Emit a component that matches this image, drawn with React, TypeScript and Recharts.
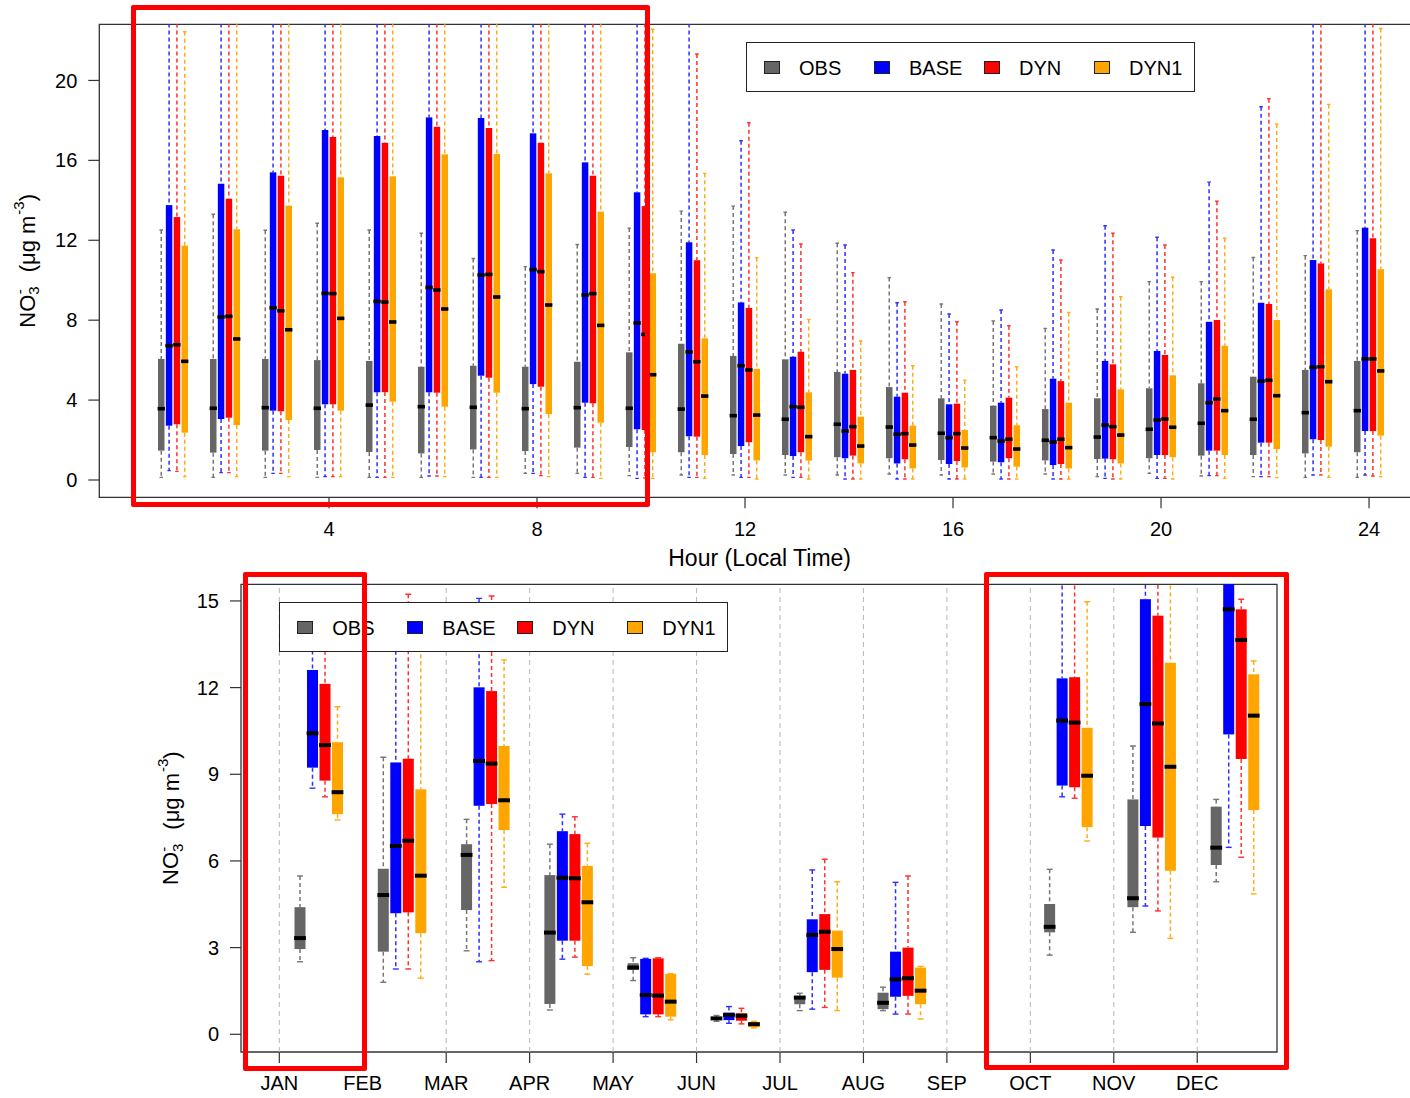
import {
  ComposedChart,
  Bar,
  XAxis,
  YAxis,
  Legend,
  ReferenceArea,
  ReferenceLine,
} from "recharts";

// every entry: [lower whisker, Q1, median, Q3, upper whisker]  (NO3-, ug m-3)
const hours = [1, 2, 3, 4, 5, 6, 7, 8, 9, 10, 11, 12, 13, 14, 15, 16, 17, 18, 19, 20, 21, 22, 23, 24];
const hourTicks = [4, 8, 12, 16, 20, 24];

const obsHourly = [
  [0.13, 1.47, 3.57, 6.06, 12.51], [0.13, 1.37, 3.59, 6.06, 13.3], [0.13, 1.47, 3.62, 6.06, 12.5],
  [0.13, 1.5, 3.59, 6.0, 12.85], [0.13, 1.4, 3.75, 5.96, 12.51], [0.13, 1.33, 3.67, 5.67, 12.35],
  [0.13, 1.53, 3.64, 5.72, 11.09], [0.33, 1.45, 3.57, 5.67, 10.68], [0.33, 1.62, 3.62, 5.92, 11.79],
  [0.22, 1.65, 3.59, 6.39, 12.61], [0.25, 1.39, 3.55, 6.82, 13.46], [0.25, 1.3, 3.22, 6.21, 13.71],
  [0.25, 1.25, 3.04, 6.04, 13.4], [0.25, 1.14, 2.79, 5.41, 11.85], [0.3, 1.09, 2.65, 4.65, 10.13],
  [0.25, 1.0, 2.34, 4.09, 8.81], [0.3, 0.92, 2.12, 3.72, 7.96], [0.3, 0.98, 1.99, 3.55, 7.59],
  [0.17, 1.05, 2.15, 4.09, 8.56], [0.33, 1.09, 2.54, 4.59, 9.93], [0.2, 1.22, 2.84, 4.84, 9.93],
  [0.17, 1.25, 3.04, 5.17, 11.14], [0.13, 1.33, 3.37, 5.51, 11.23], [0.13, 1.39, 3.47, 5.96, 12.48],
];

const baseHourly = [
  [0.47, 2.72, 6.72, 13.76, 26], [0.37, 3.05, 8.16, 14.83, 26], [0.33, 3.47, 8.62, 15.4, 26],
  [0.17, 3.79, 9.34, 17.52, 26], [0.13, 4.39, 8.94, 17.22, 26], [0.2, 4.39, 9.64, 18.15, 26],
  [0.13, 5.22, 10.26, 18.12, 26], [0.33, 4.8, 10.53, 17.35, 26], [0.13, 3.87, 9.26, 15.9, 26],
  [0.08, 2.54, 7.86, 14.4, 26], [0.13, 2.19, 6.41, 11.9, 26], [0.13, 1.7, 5.72, 8.89, 16.98],
  [0.13, 1.2, 3.67, 6.17, 12.51], [0.05, 1.09, 2.45, 5.32, 11.76], [0.05, 0.83, 2.29, 4.17, 8.87],
  [0.05, 0.8, 2.12, 3.79, 8.31], [0.05, 0.89, 1.95, 3.87, 8.51], [0.05, 0.75, 1.9, 5.07, 11.51],
  [0.08, 1.07, 2.75, 5.96, 12.73], [0.08, 1.25, 3.0, 6.46, 12.15], [0.22, 1.47, 3.87, 7.92, 14.91],
  [0.17, 1.87, 4.95, 8.87, 18.68], [0.25, 2.04, 5.64, 11.01, 26], [0.25, 2.45, 6.06, 12.63, 26],
];

const dynHourly = [
  [0.43, 2.79, 6.77, 13.16, 26], [0.37, 3.12, 8.19, 14.08, 26], [0.33, 3.44, 8.47, 15.23, 26],
  [0.17, 3.79, 9.33, 17.17, 26], [0.13, 4.4, 8.91, 16.88, 26], [0.2, 4.37, 9.51, 17.68, 26],
  [0.13, 5.12, 10.29, 17.62, 26], [0.22, 4.67, 10.43, 16.88, 26], [0.13, 3.84, 9.33, 15.23, 26],
  [0.1, 2.5, 7.29, 13.71, 26], [0.13, 2.17, 5.92, 11.0, 21.32], [0.13, 1.89, 5.51, 8.61, 17.88],
  [0.13, 1.39, 3.64, 6.42, 11.81], [0.05, 1.22, 2.67, 5.51, 10.38], [0.05, 1.04, 2.32, 4.37, 8.92],
  [0.05, 0.95, 2.32, 3.82, 7.92], [0.05, 1.09, 2.04, 4.12, 7.72], [0.05, 0.8, 2.04, 4.95, 11.01],
  [0.05, 1.04, 2.67, 5.79, 12.35], [0.08, 1.25, 3.05, 6.26, 11.76], [0.22, 1.47, 4.05, 8.01, 13.95],
  [0.17, 1.87, 4.99, 8.81, 19.08], [0.25, 2.0, 5.67, 10.84, 26], [0.2, 2.45, 6.06, 12.1, 26],
];

const dyn1Hourly = [
  [0.17, 2.37, 5.94, 11.73, 22.44], [0.17, 2.75, 7.06, 12.55, 26], [0.17, 3.0, 7.52, 13.73, 26],
  [0.17, 3.47, 8.09, 15.15, 26], [0.13, 3.92, 7.91, 15.2, 26], [0.17, 3.67, 8.56, 16.3, 26],
  [0.13, 4.37, 9.16, 16.32, 26], [0.17, 3.3, 8.76, 15.35, 26], [0.08, 2.87, 7.74, 13.43, 26],
  [0.08, 1.39, 5.27, 10.35, 22.56], [0.08, 1.25, 4.2, 7.09, 15.35], [0.05, 0.98, 3.25, 5.56, 11.13],
  [0.05, 0.97, 2.17, 4.39, 8.04], [0.05, 0.83, 1.7, 3.17, 6.96], [0.05, 0.58, 1.75, 2.72, 5.72],
  [0.05, 0.63, 1.6, 2.5, 5.0], [0.05, 0.67, 1.55, 2.74, 5.67], [0.05, 0.58, 1.62, 3.87, 8.39],
  [0.05, 0.83, 2.25, 4.54, 9.18], [0.05, 1.14, 2.64, 5.24, 10.15], [0.08, 1.25, 3.47, 6.72, 12.1],
  [0.12, 1.55, 4.22, 8.01, 17.82], [0.13, 1.67, 4.92, 9.54, 18.8], [0.17, 2.22, 5.46, 10.55, 22.6],
];

const months = ["JAN", "FEB", "MAR", "APR", "MAY", "JUN", "JUL", "AUG", "SEP", "OCT", "NOV", "DEC"];
const monthTicks = [0, 1, 2, 3, 4, 5, 6, 7, 8, 9, 10, 11];

// no samples in September
const obsMonthly = [
  [2.51, 2.95, 3.33, 4.4, 5.48], [1.8, 2.86, 4.82, 5.73, 9.59], [2.89, 4.3, 6.21, 6.58, 7.44],
  [0.84, 1.05, 3.52, 5.51, 6.58], [1.86, 2.23, 2.31, 2.46, 2.65], [0.45, 0.5, 0.55, 0.6, 0.65],
  [0.82, 1.04, 1.27, 1.33, 1.42], [0.82, 0.87, 1.09, 1.44, 1.63], null,
  [2.74, 3.53, 3.72, 4.51, 5.71], [3.53, 4.4, 4.71, 8.13, 9.98], [5.28, 5.86, 6.46, 7.88, 8.13],
];

const baseMonthly = [
  [8.52, 9.23, 10.42, 12.61, 14.5], [2.26, 4.19, 6.52, 9.41, 14.0], [2.51, 7.91, 9.46, 12.01, 15.09],
  [2.6, 3.24, 5.42, 7.03, 7.62], [0.61, 0.69, 1.36, 2.61, 2.63], [0.38, 0.49, 0.67, 0.75, 0.96],
  [0.87, 2.15, 3.44, 3.98, 5.69], [0.7, 1.3, 1.9, 2.86, 5.26], null,
  [8.22, 8.61, 10.86, 12.32, 16.5], [4.44, 7.21, 11.43, 15.06, 17.5], [6.47, 10.38, 14.71, 16.5, 19.0],
];

const dynMonthly = [
  [8.22, 8.78, 10.01, 12.13, 14.0], [2.26, 4.22, 6.7, 9.54, 15.23], [2.55, 7.97, 9.37, 11.88, 15.17],
  [2.67, 3.24, 5.4, 6.93, 7.53], [0.61, 0.69, 1.34, 2.63, 2.65], [0.36, 0.47, 0.64, 0.73, 0.9],
  [0.93, 2.23, 3.55, 4.16, 6.06], [0.7, 1.33, 1.94, 3.0, 5.48], null,
  [8.17, 8.55, 10.79, 12.36, 16.5], [4.27, 6.81, 10.76, 14.49, 17.5], [6.13, 9.53, 13.65, 14.71, 15.06],
];

const dyn1Monthly = [
  [7.42, 7.62, 8.38, 10.11, 11.34], [1.94, 3.5, 5.49, 8.48, 13.4], [5.09, 7.07, 8.1, 9.98, 12.96],
  [2.08, 2.36, 4.57, 5.83, 6.61], [0.5, 0.61, 1.13, 2.09, 2.1], [0.22, 0.24, 0.35, 0.42, 0.45],
  [0.82, 1.96, 2.95, 3.59, 5.28], [0.53, 1.04, 1.51, 2.31, 2.35], null,
  [6.69, 7.17, 8.95, 10.61, 14.97], [3.32, 5.66, 9.26, 12.86, 16.5], [4.86, 7.76, 11.03, 12.46, 12.92],
];

const series = [
  { key: "obs", name: "OBS", color: "#666666", whisker: "#767676" },
  { key: "base", name: "BASE", color: "#0000ff", whisker: "#2f2fff" },
  { key: "dyn", name: "DYN", color: "#ff0000", whisker: "#ff3030" },
  { key: "dyn1", name: "DYN1", color: "#ffa500", whisker: "#ffad14" },
];

const hourDomain = [-0.417, 24.98];
const hourConc = [-0.866, 22.81];
const monthDomain = [-0.459, 11.956];
const monthConc = [-0.613, 15.576];

type Stats = number[] | null;
const range = (s: Stats) => (s ? [s[0], s[4]] : null);

const hourRows = hours.map((hour, i) => ({
  hour,
  obs: obsHourly[i],
  base: baseHourly[i],
  dyn: dynHourly[i],
  dyn1: dyn1Hourly[i],
  obsR: range(obsHourly[i]),
  baseR: range(baseHourly[i]),
  dynR: range(dynHourly[i]),
  dyn1R: range(dyn1Hourly[i]),
}));

const monthRows = months.map((name, i) => ({
  name,
  m: i,
  obs: obsMonthly[i],
  base: baseMonthly[i],
  dyn: dynMonthly[i],
  dyn1: dyn1Monthly[i],
  obsR: range(obsMonthly[i]),
  baseR: range(baseMonthly[i]),
  dynR: range(dynMonthly[i]),
  dyn1R: range(dyn1Monthly[i]),
}));

// the bar spans whisker to whisker; box, median and caps are placed inside it
const boxShape =
  (key: string, color: string, whisker: string, medianH: number) => (props: any) => {
    const { x, y, width, height, payload } = props;
    const s = payload ? payload[key] : null;
    if (!s || !Number.isFinite(height) || !height) return <g />;
    const [lo, q1, med, q3, hi] = s;
    const top = Math.min(y, y + height);
    const k = Math.abs(height) / (hi - lo);
    const py = (v: number) => top + (hi - v) * k;
    const cx = x + width / 2;
    const cap = width * 0.27;
    return (
      <g>
        <line x1={cx} x2={cx} y1={py(hi)} y2={py(q3)} stroke={whisker} strokeWidth={1.5} strokeDasharray="4 3" />
        <line x1={cx} x2={cx} y1={py(q1)} y2={py(lo)} stroke={whisker} strokeWidth={1.5} strokeDasharray="4 3" />
        <line x1={cx - cap} x2={cx + cap} y1={py(hi)} y2={py(hi)} stroke={whisker} strokeWidth={1.4} />
        <line x1={cx - cap} x2={cx + cap} y1={py(lo)} y2={py(lo)} stroke={whisker} strokeWidth={1.4} />
        <rect x={x} y={py(q3)} width={width} height={Math.max(py(q1) - py(q3), 0.5)} fill={color} />
        <rect x={x - 0.4} y={py(med) - medianH / 2} width={width + 0.8} height={medianH} fill="#000" />
      </g>
    );
  };

const NitrateTitle = ({ viewBox, shift }: any) => {
  const cx = viewBox.x + viewBox.width - shift;
  const cy = viewBox.y + viewBox.height / 2;
  return (
    <text
      x={cx}
      y={cy}
      transform={`rotate(-90 ${cx} ${cy})`}
      textAnchor="middle"
      dominantBaseline="central"
      fontSize={22}
      fill="#000"
    >
      NO
      <tspan fontSize={15} dy={6}>3</tspan>
      <tspan fontSize={15} dx={-8} dy={-14}>-</tspan>
      <tspan dx={17} dy={8}>(μg m</tspan>
      <tspan fontSize={15} dx={1} dy={-9}>-3</tspan>
      <tspan dy={9}>)</tspan>
    </text>
  );
};

const LegendBox = () => (
  <div
    style={{
      position: "relative",
      width: 449,
      height: 50,
      boxSizing: "border-box",
      border: "1.3px solid #222",
      background: "#fff",
    }}
  >
    {series.map((s, i) => (
      <div key={s.key}>
        <span
          style={{
            position: "absolute",
            left: 17.3 + i * 110,
            top: 17.4,
            width: 16,
            height: 13,
            boxSizing: "border-box",
            border: "1px solid #222",
            background: s.color,
          }}
        />
        <span
          style={{
            position: "absolute",
            left: 52.3 + i * 110,
            top: 12.3,
            fontSize: 20,
            lineHeight: "24px",
            color: "#000",
            whiteSpace: "nowrap",
          }}
        >
          {s.name}
        </span>
      </div>
    ))}
  </div>
);

const axisTick = { fill: "#000", fontSize: 20 };
const axisStroke = { stroke: "#333", strokeWidth: 1.2 };

const HourlyPanel = () => (
  <ComposedChart
    width={1430}
    height={575}
    data={hourRows}
    margin={{ top: 24.3, right: 10, bottom: 5.7, left: 29.3 }}
    barSize={6.5}
    barGap={1.33}
  >
    <XAxis
      xAxisId="cat"
      dataKey="hour"
      type="category"
      orientation="top"
      height={0}
      hide
      padding={{ left: 47.7, right: 25 }}
    />
    <XAxis
      xAxisId="num"
      dataKey="hour"
      type="number"
      domain={hourDomain}
      allowDataOverflow
      ticks={hourTicks}
      interval={0}
      height={72}
      tickSize={11}
      tickMargin={13}
      axisLine={false}
      tickLine={axisStroke}
      tick={axisTick}
      label={{ value: "Hour (Local Time)", position: "insideBottom", offset: 3, fill: "#000", fontSize: 23 }}
    />
    <YAxis
      domain={hourConc}
      allowDataOverflow
      ticks={[0, 4, 8, 12, 16, 20]}
      interval={0}
      width={70}
      tickSize={11}
      tickMargin={11}
      axisLine={false}
      tickLine={axisStroke}
      tick={axisTick}
      label={(p: any) => <NitrateTitle {...p} shift={72} />}
    />
    {series.map((s) => (
      <Bar
        key={s.key}
        xAxisId="cat"
        dataKey={`${s.key}R`}
        name={s.name}
        fill={s.color}
        isAnimationActive={false}
        shape={boxShape(s.key, s.color, s.whisker, 3.6)}
      />
    ))}
    <ReferenceArea
      xAxisId="num"
      x1={hourDomain[0]}
      x2={hourDomain[1]}
      y1={hourConc[0]}
      y2={hourConc[1]}
      fill="none"
      fillOpacity={0}
      stroke="#333"
      strokeWidth={1.3}
      ifOverflow="visible"
    />
    <Legend
      verticalAlign="middle"
      align="center"
      layout="horizontal"
      content={() => <LegendBox />}
      wrapperStyle={{ left: 745.7, top: 42.3, width: 449, height: 50 }}
    />
  </ComposedChart>
);

const MonthlyPanel = () => (
  <ComposedChart
    width={1300}
    height={523}
    data={monthRows}
    margin={{ top: 9.3, right: 23, bottom: 0, left: 171 }}
    barSize={11}
    barGap={1.5}
  >
    <XAxis
      xAxisId="cat"
      dataKey="name"
      type="category"
      orientation="top"
      height={0}
      hide
      padding={{ left: 36.5, right: 0 }}
    />
    <XAxis
      xAxisId="num"
      dataKey="m"
      type="number"
      domain={monthDomain}
      allowDataOverflow
      ticks={monthTicks}
      interval={0}
      tickFormatter={(v: number) => months[v]}
      height={46}
      tickSize={11}
      tickMargin={13}
      axisLine={false}
      tickLine={axisStroke}
      tick={axisTick}
    />
    <YAxis
      domain={monthConc}
      allowDataOverflow
      ticks={[0, 3, 6, 9, 12, 15]}
      interval={0}
      width={70}
      tickSize={11}
      tickMargin={11}
      axisLine={false}
      tickLine={axisStroke}
      tick={axisTick}
      label={(p: any) => <NitrateTitle {...p} shift={70} />}
    />
    {monthTicks.map((t) => (
      <ReferenceLine
        key={t}
        xAxisId="num"
        x={t}
        stroke="#bdbdbd"
        strokeWidth={1.1}
        strokeDasharray="5 4"
      />
    ))}
    {series.map((s) => (
      <Bar
        key={s.key}
        xAxisId="cat"
        dataKey={`${s.key}R`}
        name={s.name}
        fill={s.color}
        isAnimationActive={false}
        shape={boxShape(s.key, s.color, s.whisker, 4)}
      />
    ))}
    <ReferenceArea
      xAxisId="num"
      x1={monthDomain[0]}
      x2={monthDomain[1]}
      y1={monthConc[0]}
      y2={monthConc[1]}
      fill="none"
      fillOpacity={0}
      stroke="#333"
      strokeWidth={1.3}
      ifOverflow="visible"
    />
    <Legend
      verticalAlign="middle"
      align="center"
      layout="horizontal"
      content={() => <LegendBox />}
      wrapperStyle={{ left: 279, top: 27.3, width: 449, height: 50 }}
    />
  </ComposedChart>
);

// highlighted periods
const frames = [
  { left: 130.5, top: 5, width: 519, height: 501.5 },
  { left: 242.5, top: 571.5, width: 124.7, height: 499 },
  { left: 983.5, top: 571.5, width: 305.5, height: 498.5 },
];

export default function App() {
  return (
    <div
      style={{
        position: "absolute",
        left: 0,
        top: 0,
        width: 1410,
        height: 1098,
        overflow: "hidden",
        background: "#fff",
        fontFamily: '"Liberation Sans", Arial, sans-serif',
      }}
    >
      <div style={{ position: "absolute", left: 0, top: 0 }}>
        <HourlyPanel />
      </div>
      <div style={{ position: "absolute", left: 0, top: 575 }}>
        <MonthlyPanel />
      </div>
      {frames.map((f, i) => (
        <div
          key={i}
          style={{
            position: "absolute",
            left: f.left,
            top: f.top,
            width: f.width,
            height: f.height,
            boxSizing: "border-box",
            border: "5px solid #ff0000",
            borderRadius: 2,
            pointerEvents: "none",
          }}
        />
      ))}
    </div>
  );
}
